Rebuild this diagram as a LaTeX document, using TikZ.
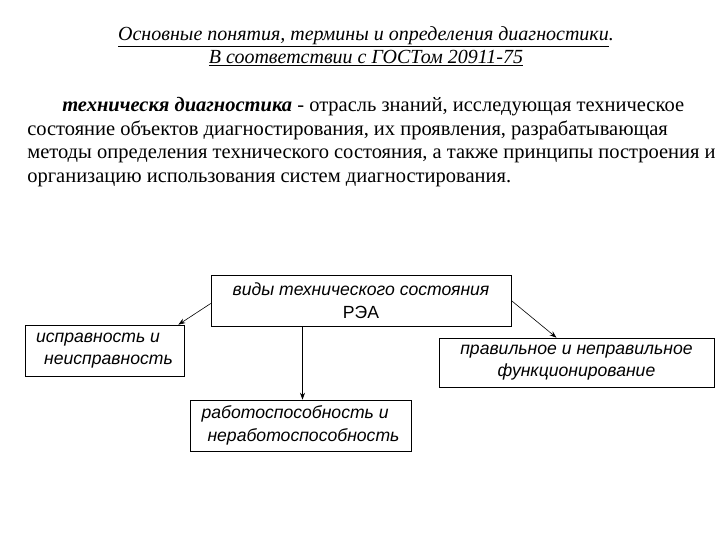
\documentclass[tikz,border=0pt]{standalone}
\usepackage{fontspec}
\setmainfont{Liberation Serif}
\setsansfont{Liberation Sans}
\usetikzlibrary{arrows,arrows.meta,positioning}

\begin{document}
\begin{tikzpicture}[x=1pt, y=-1pt, >={Stealth[length=7pt,width=5pt]}, line width=0.6pt,
    box/.style={draw, font=\sffamily\fontsize{17.6}{22.5}\selectfont, inner sep=2pt}]
    \useasboundingbox (0,0) rectangle (720,540);

    % Title
    \node[align=center, font=\itshape\fontsize{20}{23}\selectfont] (title) at (366,46)
        {\underline{Основные понятия, термины и определения диагностики}.\\
         \underline{В соответствии с ГОСТом 20911-75}};

    % Definition
    \node[anchor=north west, inner sep=0pt, align=left,
          font=\fontsize{20.5}{23.7}\selectfont] (defin) at (27,97)
        {\hspace*{35pt}\textbf{\textit{техническя диагностика}} - отрасль знаний, исследующая техническое\\
         состояние объектов диагностирования, их проявления, разрабатывающая\\
         методы определения технического состояния, а также принципы построения и\\
         организацию использования систем диагностирования.};

    % Boxes
    \node[box, minimum width=300pt, minimum height=51pt, align=center] (kinds) at (361,300.5)
        {\textit{виды технического состояния}\\РЭА};
    \node[box, minimum width=159pt, minimum height=51pt, align=left] (good) at (104.5,350.5)
        {\textit{исправность и}\\\hspace*{8pt}\textit{неисправность}};
    \node[box, minimum width=275pt, minimum height=49pt, align=center] (func) at (576.5,362.5)
        {\textit{правильное и неправильное}\\\textit{функционирование}};
    \node[box, minimum width=221pt, minimum height=51pt, align=left] (work) at (300.5,425.5)
        {\textit{работоспособность и}\\\hspace*{6pt}\textit{неработоспособность}};

    % Arrows
    \draw[->] ([yshift=-3pt]kinds.west) -- ([xshift=-6pt]good.north east);
    \draw[->] (kinds.east) -- ([xshift=-20pt]func.north);
    \draw[->] ([xshift=2pt]work.north |- kinds.south) -- ([xshift=2pt]work.north);
\end{tikzpicture}
\end{document}
